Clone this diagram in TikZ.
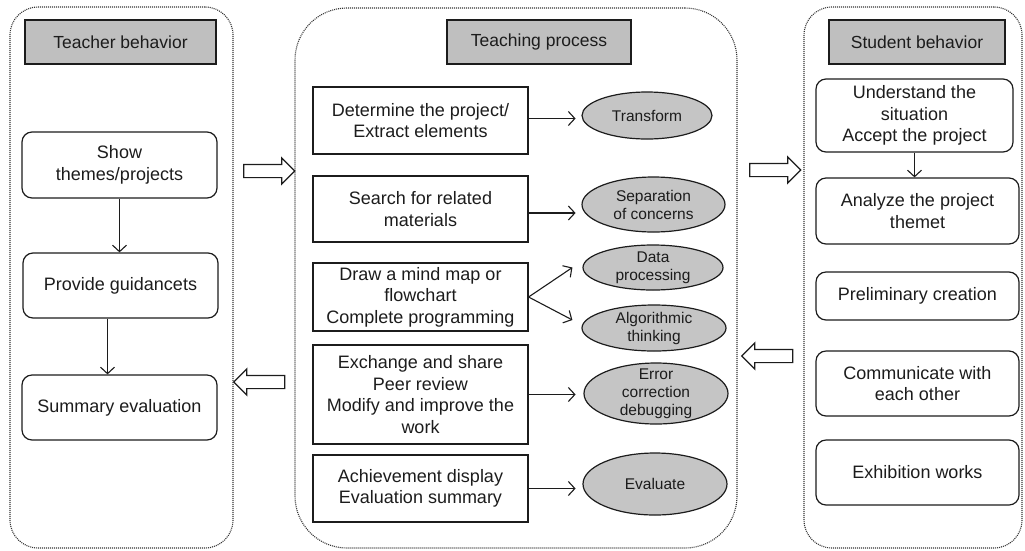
\documentclass[tikz,border=0pt]{standalone}
\usepackage{fontspec}
\setmainfont{Liberation Sans}
\usetikzlibrary{arrows.meta,shapes.geometric,shapes.arrows}
\definecolor{boxgray}{RGB}{191,191,191}
\definecolor{ovalgray}{RGB}{197,197,197}
\definecolor{ink}{RGB}{28,28,28}
\begin{document}
\begin{tikzpicture}[>={Straight Barb[length=6.5pt,width=14pt]},x=1pt,y=-1pt,
	panel/.style={draw=ink!90,dash pattern=on 1pt off 1pt,line width=1.1pt,rounded corners=#1},
	head/.style={draw=ink,line width=1.2pt,fill=boxgray,text=ink,font=\fontsize{17.5}{21}\selectfont,minimum height=44pt},
	rbox/.style={draw=ink,line width=1.2pt,rounded corners=10pt,align=center,text=ink,font=\fontsize{18}{21.5}\selectfont,inner sep=1pt},
	sbox/.style={draw=ink,line width=1.2pt,align=center,text=ink,font=\fontsize{18}{21.5}\selectfont,inner sep=1pt,minimum width=215pt},
	oval/.style={ellipse,draw=ink,line width=1.2pt,fill=ovalgray,align=center,text=ink,font=\fontsize{15.5}{18}\selectfont,inner sep=-10pt},
	blockarr/.style={single arrow,draw=ink,line width=1.2pt,fill=white,inner xsep=0pt,inner ysep=6pt,single arrow head extend=6.5pt,minimum height=51pt},
	link/.style={->,draw=ink,line width=1.1pt}]
		\useasboundingbox (0,0) rectangle (1025,550);
		\node[panel=28pt,minimum width=223pt,minimum height=541pt] (tpanel) at (121.5,277.5) {};
		\node[panel=52pt,minimum width=442pt,minimum height=540pt] (ppanel) at (516,278) {};
		\node[panel=28pt,minimum width=218pt,minimum height=541pt] (spanel) at (913,277.5) {};
		\node[head,minimum width=191pt] (thead) at (120.5,42) {Teacher behavior};
		\node[head,minimum width=184pt] (phead) at (539,42) {Teaching process};
		\node[head,minimum width=176pt] (shead) at (917,42) {Student behavior};
		\node[rbox,minimum width=195pt,minimum height=66pt] (show) at (119.5,165) {Show\\themes/projects};
		\node[rbox,minimum width=195pt,minimum height=65pt] (guide) at (120.5,285.5) {Provide guidancets};
		\node[rbox,minimum width=195pt,minimum height=65pt] (summ) at (119.5,407.5) {Summary evaluation};
		\draw[link] (show.south) -- (show.south |- guide.north);
		\draw[link] ([xshift=-13pt]guide.south) -- ([xshift=-13pt]guide.south |- summ.north);
		\node[sbox,minimum height=67pt] (det) at (420.5,120.5) {Determine the project/\\Extract elements};
		\node[sbox,minimum height=66pt] (search) at (420.5,209) {Search for related\\materials};
		\node[sbox,minimum height=68pt] (mind) at (420.5,297) {Draw a mind map or\\flowchart\\Complete programming};
		\node[sbox,minimum height=99pt] (share) at (420.5,394.5) {Exchange and share\\Peer review\\Modify and improve the\\work};
		\node[sbox,minimum height=67pt] (show2) at (420.5,488.5) {Achievement display\\Evaluation summary};
		\node[oval,minimum width=130pt,minimum height=47pt] (trans) at (647,115.5) {Transform};
		\node[oval,minimum width=143pt,minimum height=55pt] (sep) at (653.5,204.5) {Separation\\of concerns};
		\node[oval,minimum width=140pt,minimum height=45pt] (data) at (653,267.5) {Data\\processing};
		\node[oval,minimum width=144pt,minimum height=46pt] (algo) at (654,328) {Algorithmic\\thinking};
		\node[oval,minimum width=144pt,minimum height=61pt] (debug) at (656,393.5) {Error\\correction\\debugging};
		\node[oval,minimum width=144pt,minimum height=62pt] (eval) at (655,484) {Evaluate};
		\draw[link] ([yshift=2pt]det.east) -- ++(47,0);
		\draw[link] ([yshift=-4pt]search.east) -- ++(47,0);
		\draw[link] (mind.east) -- ([xshift=-10pt]data.west);
		\draw[link] (mind.east) -- ([xshift=-9pt,yshift=8pt]algo.west);
		\draw[link] (share.east) -- ++(47,0);
		\draw[link] (show2.east) -- ++(47,0);
		\node[rbox,minimum width=197pt,minimum height=73pt] (situ) at (914.5,115.5) {Understand the\\situation\\Accept the project};
		\node[rbox,minimum width=203pt,minimum height=66pt] (theme) at (917.5,211) {Analyze the project\\themet};
		\node[rbox,minimum width=203pt,minimum height=48pt] (create) at (917.5,296) {Preliminary creation};
		\node[rbox,minimum width=203pt,minimum height=65pt] (talk) at (917.5,383.5) {Communicate with\\each other};
		\node[rbox,minimum width=203pt,minimum height=65pt] (works) at (917.5,472.5) {Exhibition works};
		\draw[link] (situ.south) -- (situ.south |- theme.north);
		\node[blockarr] (tp) at (266,171) {};
		\node[blockarr,shape border rotate=180] (pt) at (262.5,382) {};
		\node[blockarr] (ps) at (772,170) {};
		\node[blockarr,shape border rotate=180] (sp) at (770.5,356) {};
\end{tikzpicture}
\end{document}
